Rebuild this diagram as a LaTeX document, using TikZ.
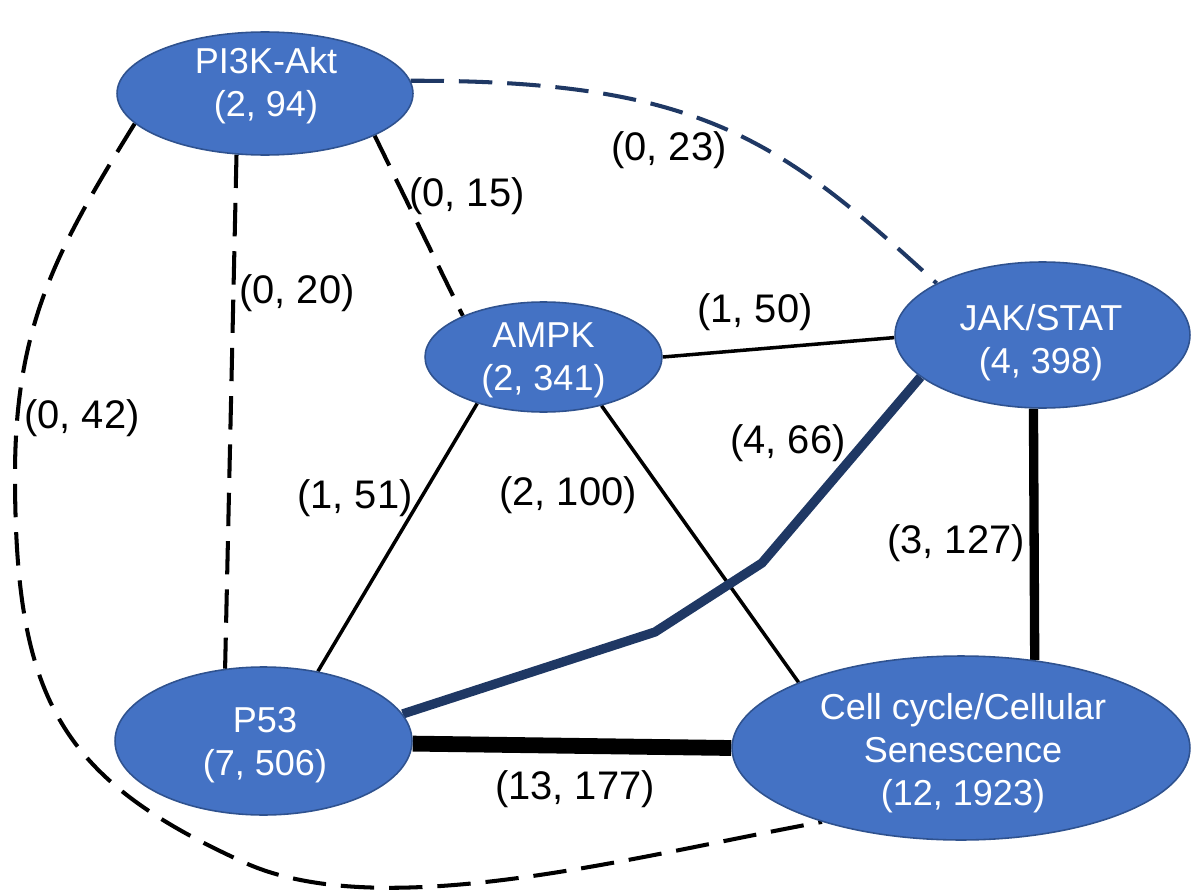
\documentclass[tikz,border=0pt]{standalone}
\usepackage{fontspec}
\setmainfont{Liberation Sans}
\usetikzlibrary{shapes.geometric}
\pgfdeclarelayer{background}
\pgfsetlayers{background,main}
\definecolor{nodefill}{HTML}{4472C4}
\definecolor{nodeedge}{HTML}{2F528F}
\definecolor{navy}{HTML}{1F3864}

\begin{document}
\begin{tikzpicture}[x=0.02cm, y=-0.02cm,
  pathway/.style={ellipse, fill=nodefill, draw=nodeedge, line width=0.9pt, inner sep=0pt},
  pwtext/.style={text=white, align=center, inner sep=0pt,
    font=\fontsize{20.5}{24.6}\selectfont},
  weight/.style={font=\fontsize{22.7}{26}\selectfont, inner sep=0pt},
  thin link/.style={line width=2pt},
  dash link/.style={line width=2.3pt, dash pattern=on 19pt off 8.5pt},
  heavy link/.style={line width=5.3pt, line join=round},
]
\useasboundingbox (0,0) rectangle (1191,892);

% pathway ellipses
\node[pathway, minimum width=5.92cm, minimum height=2.46cm] (pi) at (265,93.5) {};
\node[pathway, minimum width=4.74cm, minimum height=2.2cm] (ampk) at (543.5,357) {};
\node[pathway, minimum width=5.9cm, minimum height=2.92cm] (jak) at (1042.5,335) {};
\node[pathway, minimum width=5.94cm, minimum height=2.96cm] (p53) at (263.5,741) {};
\node[pathway, minimum width=9.16cm, minimum height=3.68cm] (cc) at (961,748) {};

% pathway names and counts
\node[pwtext] (pi-t) at (266,85.5) {PI3K-Akt\\(2, 94)};
\node[pwtext] (ampk-t) at (543.5,360.5) {AMPK\\(2, 341)};
\node[pwtext] (jak-t) at (1041,342.5) {JAK/STAT\\(4, 398)};
\node[pwtext] (p53-t) at (265,745) {P53\\(7, 506)};
\node[pwtext] (cc-t) at (963,753) {Cell cycle/Cellular\\Senescence\\(12, 1923)};

% waypoints of the long dashed arc and of the bent link
\coordinate (w1) at (15,475);
\coordinate (w2) at (250,865);
\coordinate (b1) at (655,632);
\coordinate (b2) at (762,563);

% edge weights
\node[weight] (l015) at (467,196) {(0, 15)};
\node[weight] (l023) at (669,150) {(0, 23)};
\node[weight] (l020) at (297,293) {(0, 20)};
\node[weight] (l042) at (82,418) {(0, 42)};
\node[weight] (l150) at (755,312) {(1, 50)};
\node[weight] (l151) at (355,498) {(1, 51)};
\node[weight] (l2100) at (568,495) {(2, 100)};
\node[weight] (l466) at (788,443) {(4, 66)};
\node[weight] (l3127) at (956,543) {(3, 127)};
\node[weight] (l13177) at (575,789) {(13, 177)};

\begin{pgfonlayer}{background}
  % dashed links
  \draw[dash link] (pi.-21) -- (ampk.153);
  \draw[dash link] (pi.-115) -- (p53.118);
  \draw[dash link, navy] (pi.5) .. controls (700,80) and (780,140) .. (jak.154);
  \draw[dash link] (pi.-167) .. controls (57,249) and (15,325) .. (w1)
        .. controls (15,700) and (60,780) .. (w2)
        .. controls (389,923) and (636,856) .. (cc.-152);
  % solid links
  \draw[thin link] (ampk.0) -- (jak.181);
  \draw[thin link] (ampk.215) -- (p53.52);
  \draw[thin link] (ampk.-40) -- (cc.158);
  \draw[heavy link, navy] (p53.11) -- (b1) -- (b2) -- (jak.-161);
  \draw[heavy link] (jak.-97) -- (cc.50);
  \draw[line width=9pt] (p53.-1) -- (cc.180);
\end{pgfonlayer}
\end{tikzpicture}
\end{document}
